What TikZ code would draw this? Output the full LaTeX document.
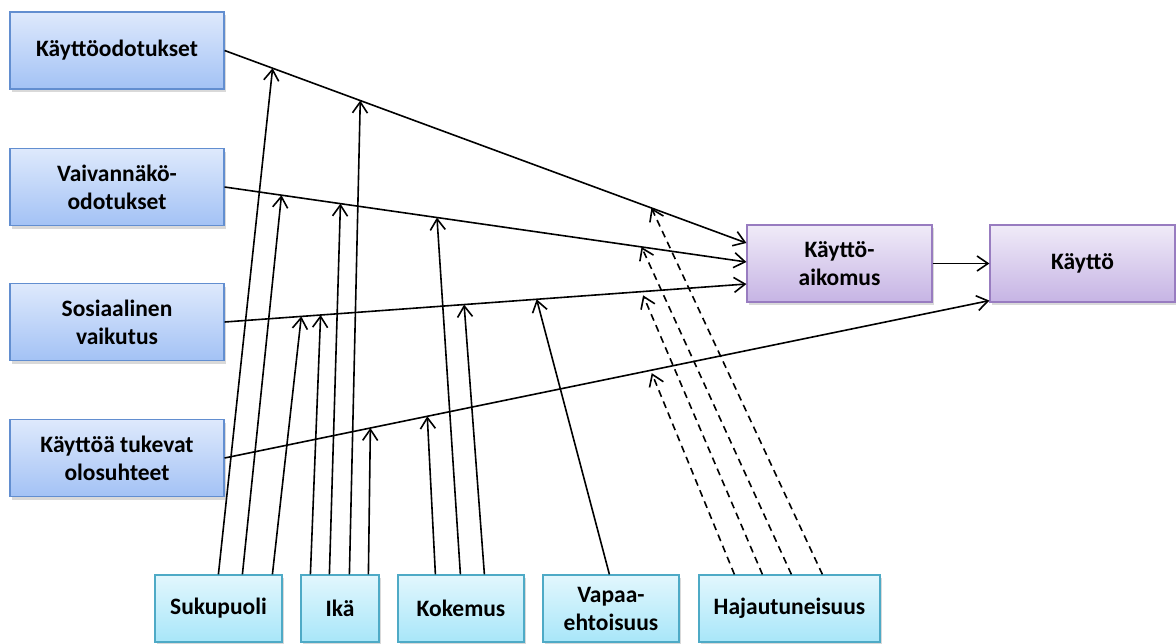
\documentclass[tikz,border=0pt]{standalone}
\usepackage{fontspec}
\setmainfont{Carlito}
\usetikzlibrary{arrows.meta,shadows,calc}

\definecolor{blueTop}{RGB}{222,233,252}
\definecolor{blueBot}{RGB}{163,194,245}
\definecolor{blueEdge}{RGB}{98,142,208}
\definecolor{purpTop}{RGB}{240,235,248}
\definecolor{purpBot}{RGB}{198,180,228}
\definecolor{purpEdge}{RGB}{152,124,192}
\definecolor{cyanTop}{RGB}{226,247,253}
\definecolor{cyanBot}{RGB}{168,230,249}
\definecolor{cyanEdge}{RGB}{78,170,198}

\tikzset{
  box/.style={draw, line width=1.2pt, align=center, inner sep=2pt,
    font=\fontsize{23.5}{28}\selectfont\bfseries,
    drop shadow={shadow xshift=2pt, shadow yshift=-3pt, opacity=0.3}},
  construct/.style={box, top color=blueTop, bottom color=blueBot, draw=blueEdge,
    minimum width=214pt, minimum height=77pt},
  outcome/.style={box, top color=purpTop, bottom color=purpBot, draw=purpEdge,
    minimum width=185pt, minimum height=77pt},
  moderator/.style={box, top color=cyanTop, bottom color=cyanBot, draw=cyanEdge,
    minimum height=67pt},
  link/.style={line width=1.6pt, -{Straight Barb[length=11pt,width=15pt,line width=1.6pt]}},
  dlink/.style={link, dash pattern=on 7pt off 5pt},
}

\begin{document}
\begin{tikzpicture}[x=1pt, y=-1pt]
\useasboundingbox (0,0) rectangle (1176,643);

% Core constructs
\node[construct] (pe) at (117,50.5) {Käyttöodotukset};
\node[construct] (ee) at (117,187) {Vaivannäkö-\\odotukset};
\node[construct] (si) at (117,322) {Sosiaalinen\\vaikutus};
\node[construct] (fc) at (117,458) {Käyttöä tukevat\\olosuhteet};

% Outcomes
\node[outcome] (bi) at (839.5,263.5) {Käyttö-\\aikomus};
\node[outcome] (ub) at (1082.5,263.5) {Käyttö};

% Moderators
\node[moderator, minimum width=127pt] (gen) at (218.5,608.5) {Sukupuoli};
\node[moderator, minimum width=78pt]  (age) at (340,608.5) {Ikä};
\node[moderator, minimum width=126pt] (exp) at (461,608.5) {Kokemus};
\node[moderator, minimum width=136pt] (vol) at (611,608.5) {Vapaa-\\ehtoisuus};
\node[moderator, minimum width=181pt] (dis) at (789.5,608.5) {Hajautuneisuus};

% Main paths, with the points where moderators meet them
\draw[link] (pe.east) -- ($(bi.west)+(0,-20.5)$)
  coordinate[pos=0.092] (l1a) coordinate[pos=0.260] (l1b) coordinate[pos=0.818] (l1c);
\draw[link] (ee.east) -- ($(bi.west)+(0,-1.5)$)
  coordinate[pos=0.109] (l2a) coordinate[pos=0.222] (l2b)
  coordinate[pos=0.407] (l2c) coordinate[pos=0.799] (l2d);
\draw[link] (si.east) -- ($(bi.west)+(0,20.5)$)
  coordinate[pos=0.147] (l3a) coordinate[pos=0.184] (l3b) coordinate[pos=0.459] (l3c)
  coordinate[pos=0.598] (l3d) coordinate[pos=0.799] (l3e);
\draw[link] (fc.east) -- ($(ub.south west)+(0,-2)$)
  coordinate[pos=0.1906] (l4a) coordinate[pos=0.265] (l4b) coordinate[pos=0.557] (l4c);
\draw[link] (bi.east) -- (ub.west);

% Moderating effects
\draw[link] ($(gen.north west)+(64,0)$) -- (l1a);
\draw[link] ($(gen.north west)+(88,0)$) -- (l2a);
\draw[link] ($(gen.north west)+(118,0)$) -- (l3a);

\draw[link] ($(age.north west)+(10,0)$) -- (l3b);
\draw[link] ($(age.north west)+(29,0)$) -- (l2b);
\draw[link] ($(age.north west)+(49,0)$) -- (l1b);
\draw[link] ($(age.north west)+(68,0)$) -- (l4a);

\draw[link] ($(exp.north west)+(38,0)$) -- (l4b);
\draw[link] ($(exp.north west)+(63,0)$) -- (l2c);
\draw[link] ($(exp.north west)+(87,0)$) -- (l3c);

\draw[link] ($(vol.north west)+(67,0)$) -- (l3d);

\draw[dlink, shorten >=3pt] ($(dis.north west)+(36,0)$) -- (l4c);
\draw[dlink, shorten >=4pt] ($(dis.north west)+(64,0)$) -- (l3e);
\draw[dlink] ($(dis.north west)+(93,0)$) -- (l2d);
\draw[dlink] ($(dis.north west)+(124,0)$) -- (l1c);
\end{tikzpicture}
\end{document}
